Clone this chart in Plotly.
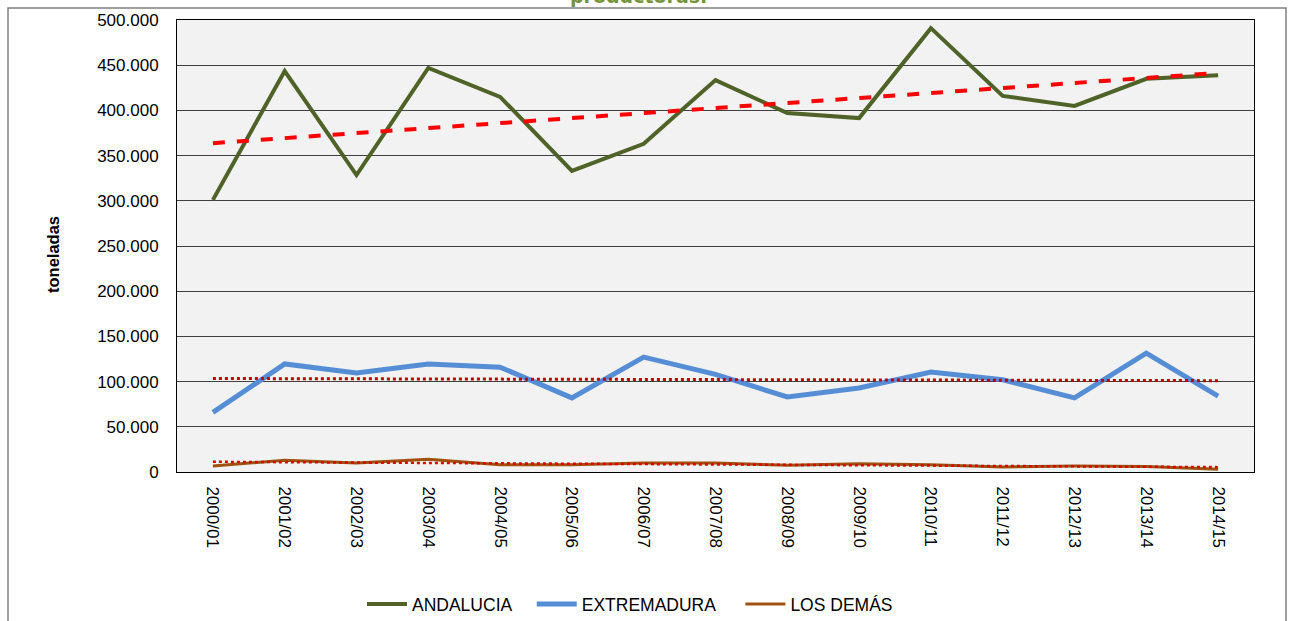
import numpy as np
import plotly.graph_objects as go

campaigns = ["2000/01", "2001/02", "2002/03", "2003/04", "2004/05", "2005/06", "2006/07",
             "2007/08", "2008/09", "2009/10", "2010/11", "2011/12", "2012/13", "2013/14", "2014/15"]
andalucia = [301000, 443500, 328500, 447000, 415000, 333000, 363000, 433500, 397000, 391500,
             491000, 416000, 405000, 435000, 439000]
extremadura = [66000, 119500, 109500, 119500, 116000, 82000, 127000, 108000, 83000, 93000,
               110500, 102000, 82000, 131500, 84000]
los_demas = [6500, 13000, 10000, 14000, 8000, 8000, 10000, 10000, 7500, 9000,
             8000, 5500, 6500, 6000, 3000]

W, H = 1289, 621
L, R, T, B = 177, 1254, 20, 472

def trend(vals):
    x = np.arange(len(vals))
    m, c = np.polyfit(x, vals, 1)
    return list(m * x + c)

NB = "\u00a0"

fig = go.Figure()
fig.add_trace(go.Scatter(x=campaigns, y=andalucia, name="ANDALUCIA" + NB * 3, mode="lines",
                         line=dict(color="#4F6228", width=4)))
fig.add_trace(go.Scatter(x=campaigns, y=extremadura, name="EXTREMADURA" + NB * 4, mode="lines",
                         line=dict(color="#558ED5", width=5)))
fig.add_trace(go.Scatter(x=campaigns, y=los_demas, name="LOS DEMÁS", mode="lines",
                         line=dict(color="#A0510F", width=3)))
fig.add_trace(go.Scatter(x=campaigns, y=trend(andalucia), mode="lines", showlegend=False,
                         line=dict(color="#FF0000", width=4, dash="dash")))
fig.add_trace(go.Scatter(x=campaigns, y=trend(extremadura), mode="lines", showlegend=False,
                         line=dict(color="#C00000", width=3, dash="dot")))
fig.add_trace(go.Scatter(x=campaigns, y=trend(los_demas), mode="lines", showlegend=False,
                         line=dict(color="#E00000", width=2.5, dash="dot")))

def px(xp):
    return (xp - L) / (R - L)

def py(yp):
    return (B - yp) / (B - T)

TICKFONT = dict(family="Liberation Sans, Arial", size=17, color="black")

fig.update_layout(
    width=W, height=H,
    margin=dict(l=L, r=W - R, t=T, b=H - B, pad=0, autoexpand=False),
    paper_bgcolor="white",
    plot_bgcolor="#F2F2F2",
    separators=",.",
    font=dict(family="Liberation Sans, Arial", size=13, color="black"),
    showlegend=True,
    legend=dict(orientation="h", x=px(362), xanchor="left", y=py(604), yanchor="middle",
                font=dict(family="Liberation Sans, Arial", size=17.5, color="black"),
                bgcolor="rgba(0,0,0,0)", itemwidth=40, traceorder="normal"),
    xaxis=dict(type="category", range=[-0.5, 14.5], tickangle=90, showgrid=False,
               showline=True, linecolor="black", linewidth=1, mirror=True,
               ticks="", tickfont=TICKFONT, ticklabelstandoff=10, automargin=False),
    yaxis=dict(range=[0, 500000], dtick=50000, tickformat=",.0f", showgrid=True,
               gridcolor="#404040", gridwidth=1, showline=True, linecolor="black",
               linewidth=1, mirror=True, ticks="", zeroline=False,
               tickfont=TICKFONT, ticklabelstandoff=14, automargin=False),
    shapes=[dict(type="rect", xref="paper", yref="paper", x0=px(8), x1=px(1286),
                 y0=py(640), y1=py(8), line=dict(color="#808080", width=1.5),
                 fillcolor="rgba(0,0,0,0)", layer="below")],
    annotations=[
        dict(text="<b>productoras.</b>", xref="paper", yref="paper",
             x=px(638), y=py(-4), xanchor="center", yanchor="middle",
             showarrow=False, font=dict(family="DejaVu Sans", size=19, color="#77933C")),
        dict(text="<b>toneladas</b>", xref="paper", yref="paper",
             x=px(53), y=py(255), xanchor="center", yanchor="middle", textangle=-90,
             showarrow=False,
             font=dict(family="Liberation Sans, Arial", size=16.5, color="black")),
    ],
)

fig.write_html("out.html", config={"displayModeBar": False},
               post_script="document.body.style.margin='0';")
